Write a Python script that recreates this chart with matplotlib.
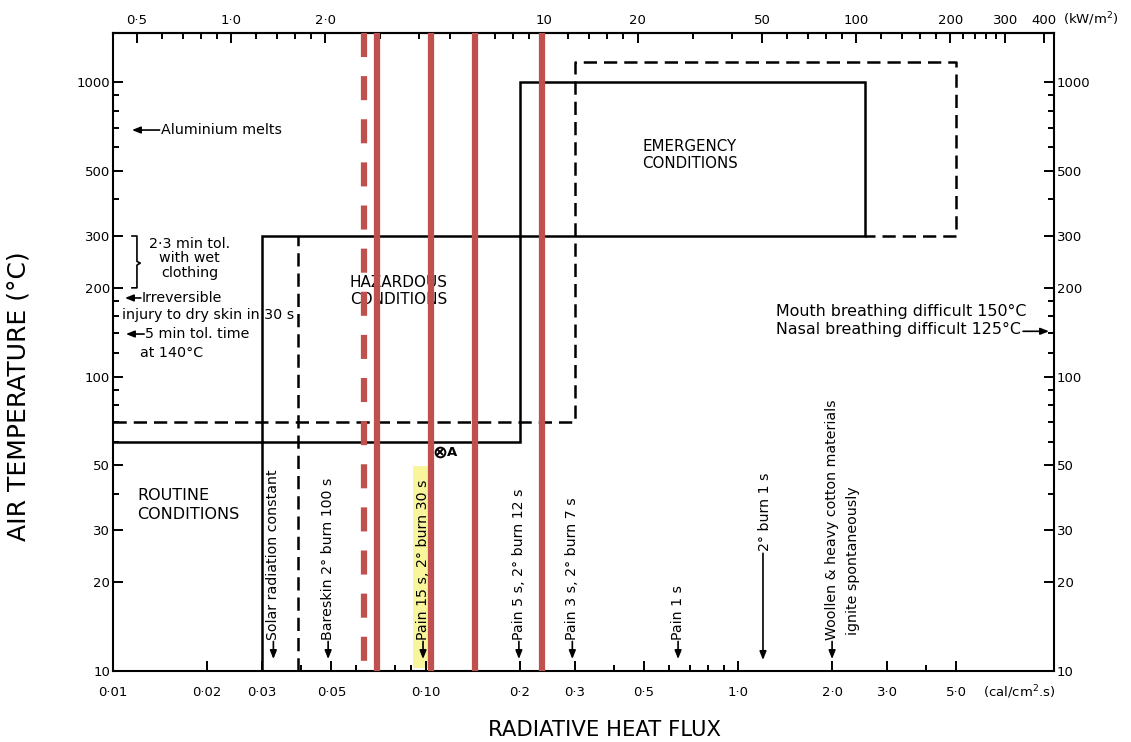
import matplotlib
matplotlib.use("Agg")
import matplotlib.pyplot as plt
from matplotlib.ticker import FixedLocator, FixedFormatter, NullFormatter

plt.rcParams['font.family'] = ['DejaVu Sans']

# ---------------- data ----------------
x_major = [0.01, 0.02, 0.03, 0.05, 0.10, 0.2, 0.3, 0.5, 1.0, 2.0, 3.0, 5.0]
x_major_labels = ["0·01", "0·02", "0·03", "0·05", "0·10", "0·2", "0·3", "0·5",
                  "1·0", "2·0", "3·0", "5·0"]
x_minor = [0.04, 0.06, 0.07, 0.08, 0.09, 0.4, 0.6, 0.7, 0.8, 0.9, 4.0]

y_major = [10, 20, 30, 50, 100, 200, 300, 500, 1000]
y_major_labels = ["10", "20", "30", "50", "100", "200", "300", "500", "1000"]
y_minor = [40, 60, 70, 80, 90, 120, 140, 160, 180, 400, 600, 700, 800, 900]

top_major = [0.5, 1.0, 2.0, 10, 20, 50, 100, 200, 300, 400]
top_major_labels = ["0·5", "1·0", "2·0", "10", "20", "50", "100", "200", "300", "400"]
top_minor = [0.6, 0.7, 0.8, 0.9, 1.2, 1.4, 1.6, 1.8, 3, 4, 5, 6, 7, 8, 9,
             12, 14, 16, 18, 30, 40, 60, 70, 80, 90, 120, 140, 160, 180,
             220, 240, 260, 280]
KW_PER_CAL = 41.868

solid_flux = [0.01, 0.2, 0.2, 2.55, 2.55, 0.03, 0.03]
solid_temp = [60, 60, 1000, 1000, 300, 300, 10]
dashed_flux = [0.01, 0.3, 0.3, 5.0, 5.0, 2.55]
dashed_temp = [70, 70, 1170, 1170, 300, 300]
dashed_v_flux = [0.039, 0.039]
dashed_v_temp = [10, 300]

red_dashed_flux = [0.0636]
red_solid_flux = [0.0697, 0.1041, 0.1440, 0.2354]

point_A_flux = [0.1113]
point_A_temp = [55.4]

highlight_flux = [0.0912, 0.1049]
highlight_temp = [10.2, 49.7]

vert_labels = ["Solar radiation constant", "Bareskin 2° burn 100 s",
               "Pain 15 s, 2° burn 30 s", "Pain 5 s, 2° burn 12 s",
               "Pain 3 s, 2° burn 7 s", "Pain 1 s",
               "Woollen & heavy cotton materials"]
vert_flux = [0.0326, 0.0488, 0.0982, 0.199, 0.295, 0.643, 2.0]

XMIN, XMAX = 0.01, 10.26
YMIN, YMAX = 10, 1467

# ---------------- figure ----------------
fig = plt.figure(figsize=(11.31, 7.42), dpi=100)
ax = fig.add_axes([113 / 1131, 1 - 671 / 742, 941 / 1131, 638 / 742])
ax.set_xscale('log')
ax.set_yscale('log')
ax.set_xlim(XMIN, XMAX)
ax.set_ylim(YMIN, YMAX)

for s in ax.spines.values():
    s.set_linewidth(1.5)

# ticks
ax.xaxis.set_major_locator(FixedLocator(x_major))
ax.xaxis.set_major_formatter(FixedFormatter(x_major_labels))
ax.xaxis.set_minor_locator(FixedLocator(x_minor))
ax.xaxis.set_minor_formatter(NullFormatter())
ax.yaxis.set_major_locator(FixedLocator(y_major))
ax.yaxis.set_major_formatter(FixedFormatter(y_major_labels))
ax.yaxis.set_minor_locator(FixedLocator(y_minor))
ax.yaxis.set_minor_formatter(NullFormatter())
ax.tick_params(axis='x', which='both', direction='in', bottom=True, top=False,
               labelsize=9.5, pad=11, width=1.4)
ax.tick_params(axis='x', which='major', length=7)
ax.tick_params(axis='x', which='minor', length=4)
ax.tick_params(axis='y', which='both', direction='in', left=True, right=True,
               labelleft=True, labelright=True, labelsize=9.5, width=1.4)
ax.tick_params(axis='y', which='major', length=7, pad=2)
ax.tick_params(axis='y', which='minor', length=4.5)

sec = ax.secondary_xaxis('top', functions=(lambda v: v * KW_PER_CAL,
                                           lambda v: v / KW_PER_CAL))
sec.xaxis.set_major_locator(FixedLocator(top_major))
sec.xaxis.set_major_formatter(FixedFormatter(top_major_labels))
sec.xaxis.set_minor_locator(FixedLocator(top_minor))
sec.xaxis.set_minor_formatter(NullFormatter())
sec.tick_params(which='both', direction='in', labelsize=9.5, pad=4, width=1.4)
sec.tick_params(which='major', length=7)
sec.tick_params(which='minor', length=4)
sec.spines['top'].set_linewidth(1.5)

fig.text(1063 / 1131, 1 - 19 / 742, "(kW/m$^2$)", fontsize=9.5, va='center', ha='left')
fig.text(983 / 1131, 1 - 692 / 742, "(cal/cm$^2$.s)", fontsize=9.5, va='center', ha='left')

# axis labels
ax.set_xlabel("RADIATIVE HEAT FLUX", fontsize=15.2)
ax.xaxis.set_label_coords((605 - 113) / 941, (671 - 720) / 638)
ax.set_ylabel("AIR TEMPERATURE (°C)", fontsize=18)
ax.yaxis.set_label_coords((31 - 113) / 941, (671 - 396) / 638)

# highlight
ax.fill_between(highlight_flux, [highlight_temp[0]] * 2, [highlight_temp[1]] * 2,
                color='#f9f59c', lw=0, zorder=1)

# black boxes
ax.plot(solid_flux, solid_temp, color='black', lw=1.8, zorder=3,
        solid_joinstyle='miter')
ax.plot(dashed_flux, dashed_temp, color='black', lw=1.8, zorder=3,
        linestyle=(0, (5.3, 2.8)))
ax.plot(dashed_v_flux, dashed_v_temp, color='black', lw=1.8, zorder=3,
        linestyle=(0, (5.3, 2.8)))

# red lines
RED = '#C0504D'
for xv in red_dashed_flux:
    ax.plot([xv, xv], [YMAX, YMIN], color=RED, lw=4.5, zorder=6,
            linestyle=(0, (3.85, 3.05)), clip_on=False)
for xv in red_solid_flux:
    ax.plot([xv, xv], [YMAX, YMIN], color=RED, lw=4.5, zorder=6,
            solid_capstyle='butt', clip_on=False)

# point A
ax.plot(point_A_flux, point_A_temp, marker='o', ms=7, mfc='none', mec='black',
        mew=1.4, ls='none', zorder=4)
ax.plot(point_A_flux, point_A_temp, marker='x', ms=4.5, mec='black',
        mew=1.4, ls='none', zorder=4)
ax.text(0.1175, 55.4, "A", fontsize=9.5, fontweight='bold', va='center', ha='left')

# region labels
ax.text(0.0573, 195, "HAZARDOUS\nCONDITIONS", fontsize=11, ha='left', va='center',
        linespacing=1.15, zorder=2)
ax.text(0.702, 565, "EMERGENCY\nCONDITIONS", fontsize=10.8, ha='center', va='center',
        linespacing=1.2)
ax.text(0.01193, 36.6, "ROUTINE\nCONDITIONS", fontsize=11.5, ha='left', va='center',
        linespacing=1.3)

arrow_kw = dict(arrowstyle='-|>,head_length=0.5,head_width=0.2', color='black',
                lw=1.2, shrinkA=0, shrinkB=0)
FS = 10.3

# left side annotations
ax.annotate("", xy=(0.01150, 687), xytext=(0.01410, 687), arrowprops=arrow_kw)
ax.text(0.01424, 687, "Aluminium melts", fontsize=FS, ha='left', va='center')

ax.plot([0.0115, 0.01193, 0.01193, 0.01222, 0.01193, 0.01193, 0.0115],
        [300, 300, 246, 242.7, 239, 200, 200], color='black', lw=1.2)
ax.text(0.01755, 252, "2·3 min tol.\nwith wet\nclothing", fontsize=FS,
        ha='center', va='center', linespacing=1.05)

ax.annotate("", xy=(0.01092, 184.8), xytext=(0.01228, 184.8), arrowprops=arrow_kw)
ax.text(0.01238, 184.8, "Irreversible", fontsize=FS, ha='left', va='center')
ax.text(0.01069, 161.8, "injury to dry skin in 30 s", fontsize=FS, ha='left', va='center')

ax.annotate("", xy=(0.01100, 139.4), xytext=(0.01258, 139.4), arrowprops=arrow_kw)
ax.text(0.01266, 139.4, "5 min tol. time", fontsize=FS, ha='left', va='center')
ax.text(0.01220, 120.2, "at 140°C", fontsize=FS, ha='left', va='center')

# right side annotations
ax.text(1.323, 166.9, "Mouth breathing difficult 150°C", fontsize=11.4, ha='left',
        va='center')
ax.text(1.323, 143.9, "Nasal breathing difficult 125°C", fontsize=11.4, ha='left',
        va='center')
ax.annotate("", xy=(9.89, 142.4), xytext=(8.17, 142.4), arrowprops=arrow_kw)

# vertical annotations along the flux axis
VFS = 10.2
for lab, xv in zip(vert_labels, vert_flux):
    ax.annotate("", xy=(xv, 10.98), xytext=(xv, 12.6), arrowprops=arrow_kw)
    ax.text(xv, 12.75, lab, fontsize=VFS, rotation=90, ha='center', va='bottom',
            zorder=3)
ax.text(2.33, 13.25, "ignite spontaneously", fontsize=VFS, rotation=90,
        ha='center', va='bottom')
ax.annotate("", xy=(1.202, 10.9), xytext=(1.202, 25.1), arrowprops=arrow_kw)
ax.text(1.22, 25.55, "2° burn 1 s", fontsize=VFS, rotation=90, ha='center', va='bottom')

fig.savefig("out.png", dpi=100)
